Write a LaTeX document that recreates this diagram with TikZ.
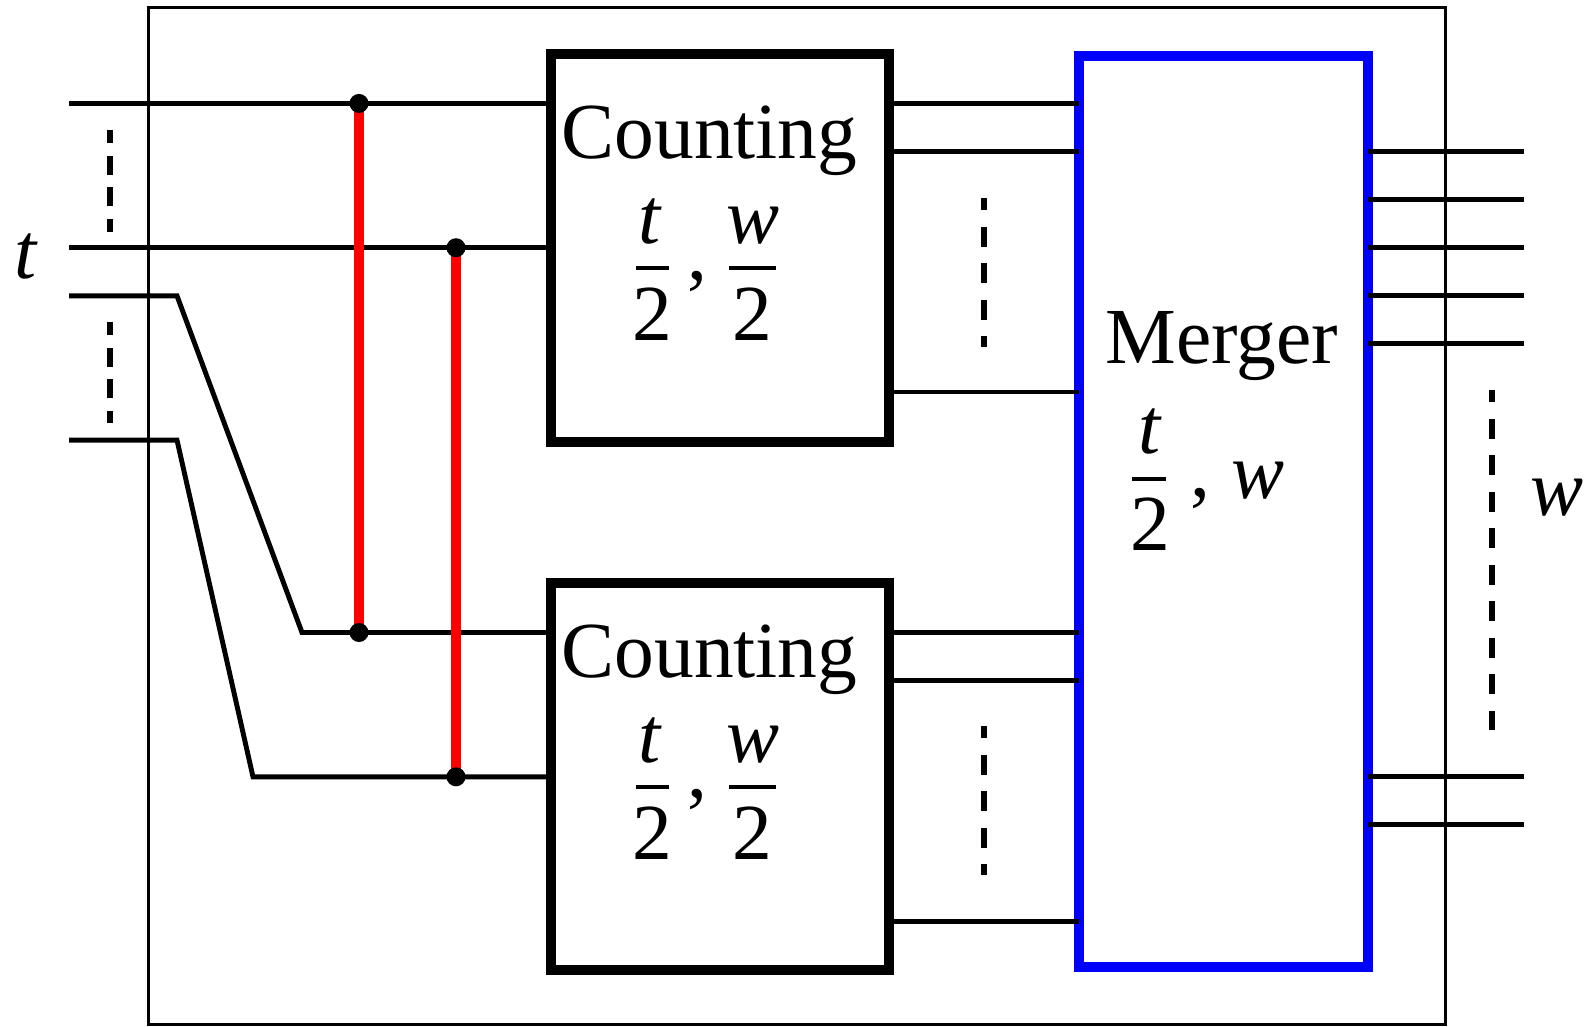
\documentclass[tikz,border=0pt]{standalone}
\usepackage{fontspec}
\setmainfont{Liberation Serif}
\begin{document}
\begin{tikzpicture}[x=0.01cm,y=-0.01cm,
  wire/.style={line width=1.4pt},
  framebox/.style={draw, line width=0.8pt, inner sep=0, outer sep=0},
  cbox/.style={draw, line width=2.8pt, inner sep=0, outer sep=0, minimum width=3.38cm, minimum height=3.87cm},
  mbox/.style={draw=blue, line width=2.8pt, inner sep=0, outer sep=0, minimum width=2.89cm, minimum height=9.11cm},
  rung/.style={red, line width=2.8pt},
  dotnode/.style={circle, fill=black, inner sep=0, minimum size=0.19cm},
  ellipL/.style={line width=1.5pt, dash pattern=on 5.4pt off 3.56pt, dash phase=1.7pt},
  ellipR/.style={line width=1.5pt, dash pattern=on 5.69pt off 4.7pt, dash phase=2.28pt},
  txt/.style={inner sep=0, outer sep=0, anchor=base, font=\fontsize{22.6}{27}\selectfont},
  fbar/.style={line width=1.3pt}]
\useasboundingbox (0,0) rectangle (1589,1026);
\clip (0,0) rectangle (1589,1026);

% wire levels
\coordinate (y0) at (0,103.4);
\coordinate (y1) at (0,151.5);
\coordinate (y2) at (0,199.6);
\coordinate (y3) at (0,247.7);
\coordinate (y4) at (0,295.8);
\coordinate (y5) at (0,343.9);
\coordinate (y6) at (0,392);
\coordinate (y7) at (0,440.1);
\coordinate (y11) at (0,632.5);
\coordinate (y12) at (0,680.6);
\coordinate (y14) at (0,776.8);
\coordinate (y15) at (0,824.9);
\coordinate (y17) at (0,921.1);

% frame and boxes
\node[framebox, minimum width=12.96cm, minimum height=10.16cm] (frm) at (797,516) {};
\node[cbox] (cA) at (720,248) {};
\node[cbox] (cB) at (720,776.5) {};
\node[mbox] (mg) at (1223.5,511.5) {};

% inputs
\coordinate (i1) at (69,103.4);
\coordinate (i2) at (69,247.7);
\coordinate (i3) at (69,295.8);
\coordinate (k3) at (177,295.8);
\coordinate (b3) at (302,632.5);
\coordinate (i4) at (69,440.1);
\coordinate (k4) at (177,440.1);
\coordinate (b4) at (253,776.8);
\draw[wire] (i1) -- (i1 -| cA.west);
\draw[wire] (i2) -- (i2 -| cA.west);
\draw[wire] (i3) -- (k3) -- (b3) -- (b3 -| cB.west);
\draw[wire] (i4) -- (k4) -- (b4) -- (b4 -| cB.west);

% counting -> merger
\foreach \l in {y0,y1,y6,y11,y12,y17}{
  \coordinate (ls) at (cA.east |- \l);
  \coordinate (le) at (mg.west |- \l);
  \draw[wire] (ls) -- (le);
}
% merger outputs
\coordinate (oend) at (1524,0);
\foreach \l in {y1,y2,y3,y4,y5,y14,y15}{
  \coordinate (os) at (mg.east |- \l);
  \coordinate (oe) at (oend |- \l);
  \draw[wire] (os) -- (oe);
}

% comparators
\coordinate (d1) at (359,103.4);
\coordinate (d3) at (359,632.5);
\coordinate (d2) at (456,247.7);
\coordinate (d4) at (456,776.8);
\draw[rung] (d1) -- (d3);
\draw[rung] (d2) -- (d4);
\node[dotnode] (dot1) at (d1) {};
\node[dotnode] (dot2) at (d2) {};
\node[dotnode] (dot3) at (d3) {};
\node[dotnode] (dot4) at (d4) {};

% ellipsis dashes
\draw[ellipL] (110,130) -- (110,232);
\draw[ellipL] (110,322) -- (110,423);
\draw[ellipR] (984,198) -- (984,347);
\draw[ellipR] (984,726) -- (984,875);
\draw[ellipR] (1492,390) -- (1492,730);

% labels
\node[txt] (lt) at (26,278) {\itshape t};
\node[txt, anchor=base west] (lw) at (1530,515) {\itshape w};

% top counting text
\node[txt] (ca) at (709.5,158) {Counting};
\node[txt] (cat) at (650,243) {\itshape t};
\draw[fbar] (636,268) -- (669,268);
\node[txt] (ca2) at (652,340) {2};
\node[txt] (cac) at (697,279) {,};
\node[txt] (caw) at (753,243) {\itshape w};
\draw[fbar] (729,268) -- (776,268);
\node[txt] (caw2) at (752,340) {2};

% bottom counting text
\node[txt] (cb) at (709.5,677) {Counting};
\node[txt] (cbt) at (650,762) {\itshape t};
\draw[fbar] (636,787) -- (669,787);
\node[txt] (cb2) at (652,859) {2};
\node[txt] (cbc) at (697,797) {,};
\node[txt] (cbw) at (753,762) {\itshape w};
\draw[fbar] (729,787) -- (776,787);
\node[txt] (cbw2) at (752,859) {2};

% merger text
\node[txt] (mt) at (1222,363) {Merger};
\node[txt] (mtt) at (1150,453) {\itshape t};
\draw[fbar] (1132,479) -- (1166,479);
\node[txt] (mt2) at (1150,550) {2};
\node[txt] (mtc) at (1200,496) {,};
\node[txt] (mtw) at (1258,498) {\itshape w};
\end{tikzpicture}
\end{document}
